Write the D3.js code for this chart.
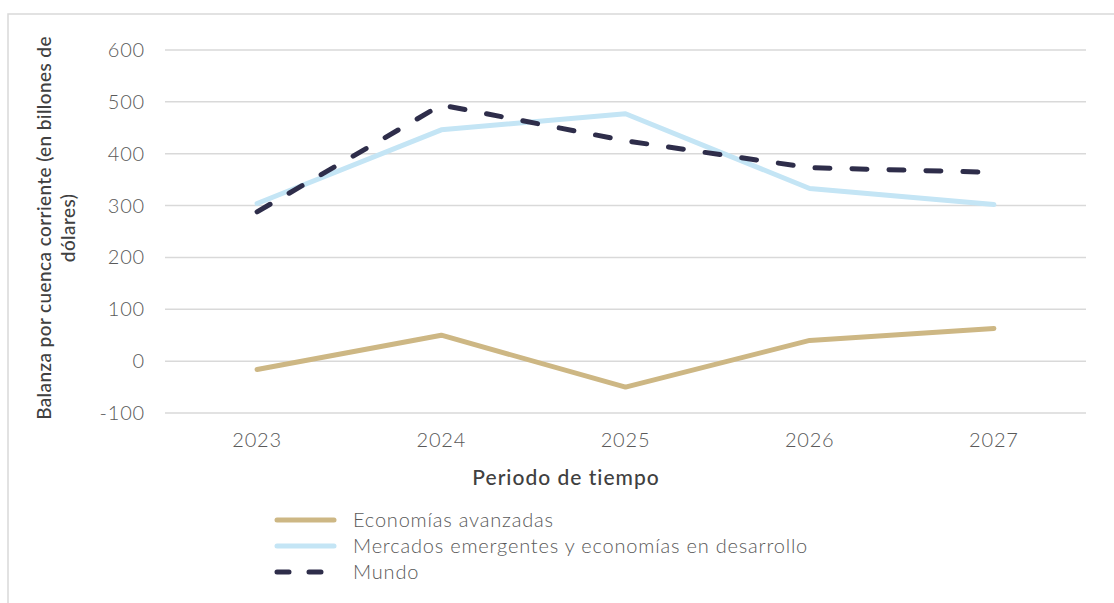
<!doctype html>
<html>
<head>
<meta charset="utf-8">
<script src="https://d3js.org/d3.v7.min.js"></script>
<style>
  body { margin: 0; background: #fff; }
  text { font-family: Lato, "Open Sans", sans-serif; }
</style>
</head>
<body>
<script>
var years = ["2023", "2024", "2025", "2026", "2027"];
var avanzadas = [-16, 50, -50, 40, 63];
var emergentes = [304, 446, 477, 333, 302];
var mundo = [288, 494, 425, 373, 364];
var yTicks = [-100, 0, 100, 200, 300, 400, 500, 600];

var series = [
  {name: "Economías avanzadas", values: avanzadas, color: "#cdb784", dash: null},
  {name: "Mercados emergentes y economías en desarrollo", values: emergentes, color: "#c4e5f5", dash: null},
  {name: "Mundo", values: mundo, color: "#2e2d4a", dash: "15,22"}
];

var width = 1114, height = 603;
var plotLeft = 165, plotRight = 1086, plotTop = 50, plotBottom = 413;

var svg = d3.select("body").append("svg")
  .attr("width", width)
  .attr("height", height);

// frame
svg.append("rect")
  .attr("x", 8).attr("y", 14)
  .attr("width", 1130).attr("height", 620)
  .attr("fill", "none")
  .attr("stroke", "#d9d9d9")
  .attr("stroke-width", 1.5);

var x = d3.scaleBand().domain(years).range([plotLeft, plotRight]);
var y = d3.scaleLinear().domain([-100, 600]).range([plotBottom, plotTop]);

// gridlines
svg.append("g").selectAll("line")
  .data(yTicks)
  .enter().append("line")
  .attr("x1", plotLeft).attr("x2", plotRight)
  .attr("y1", function(d){ return y(d); })
  .attr("y2", function(d){ return y(d); })
  .attr("stroke", "#d9d9d9")
  .attr("stroke-width", 1.5);

// y tick labels
svg.append("g").selectAll("text")
  .data(yTicks)
  .enter().append("text")
  .attr("x", 145)
  .attr("y", function(d){ return y(d) + 7; })
  .attr("text-anchor", "end")
  .attr("font-size", 20)
  .attr("font-weight", 300)
  .attr("letter-spacing", 0.8)
  .attr("fill", "#595959")
  .text(function(d){ return d; });

// x tick labels
svg.append("g").selectAll("text")
  .data(years)
  .enter().append("text")
  .attr("x", function(d){ return x(d) + x.bandwidth() / 2; })
  .attr("y", 447)
  .attr("text-anchor", "middle")
  .attr("font-size", 20)
  .attr("font-weight", 300)
  .attr("letter-spacing", 0.8)
  .attr("fill", "#595959")
  .text(function(d){ return d; });

// axis titles
svg.append("text")
  .attr("x", 566).attr("y", 485)
  .attr("text-anchor", "middle")
  .attr("font-size", 21)
  .attr("font-weight", 500)
  .attr("letter-spacing", 1)
  .attr("fill", "#404040")
  .text("Periodo de tiempo");

var yTitle = svg.append("text")
  .attr("transform", "translate(51,228) rotate(-90)")
  .attr("text-anchor", "middle")
  .attr("font-size", 19)
  .attr("font-weight", 500)
  .attr("letter-spacing", 0.4)
  .attr("fill", "#404040");
yTitle.append("tspan").attr("x", 0).attr("dy", 0)
  .text("Balanza por cuenca corriente (en billones de");
yTitle.append("tspan").attr("x", 0).attr("dy", 24)
  .text("dólares)");

// lines
var line = d3.line()
  .x(function(d, i){ return x(years[i]) + x.bandwidth() / 2; })
  .y(function(d){ return y(d); });

svg.append("g").selectAll("path")
  .data(series)
  .enter().append("path")
  .attr("d", function(d){ return line(d.values); })
  .attr("fill", "none")
  .attr("stroke", function(d){ return d.color; })
  .attr("stroke-width", 5)
  .attr("stroke-linecap", "round")
  .attr("stroke-linejoin", "round")
  .attr("stroke-dasharray", function(d){ return d.dash; });

// legend
var legend = svg.append("g").selectAll("g")
  .data(series)
  .enter().append("g")
  .attr("transform", function(d, i){ return "translate(0," + (520 + i * 26) + ")"; });

legend.append("line")
  .attr("x1", 277).attr("x2", 334)
  .attr("y1", 0).attr("y2", 0)
  .attr("stroke", function(d){ return d.color; })
  .attr("stroke-width", 5)
  .attr("stroke-linecap", "round")
  .attr("stroke-dasharray", function(d){ return d.dash ? "12,20" : null; });

legend.append("text")
  .attr("x", 353).attr("y", 7)
  .attr("font-size", 20)
  .attr("font-weight", 300)
  .attr("letter-spacing", 0.8)
  .attr("fill", "#595959")
  .text(function(d){ return d.name; });
</script>
</body>
</html>
